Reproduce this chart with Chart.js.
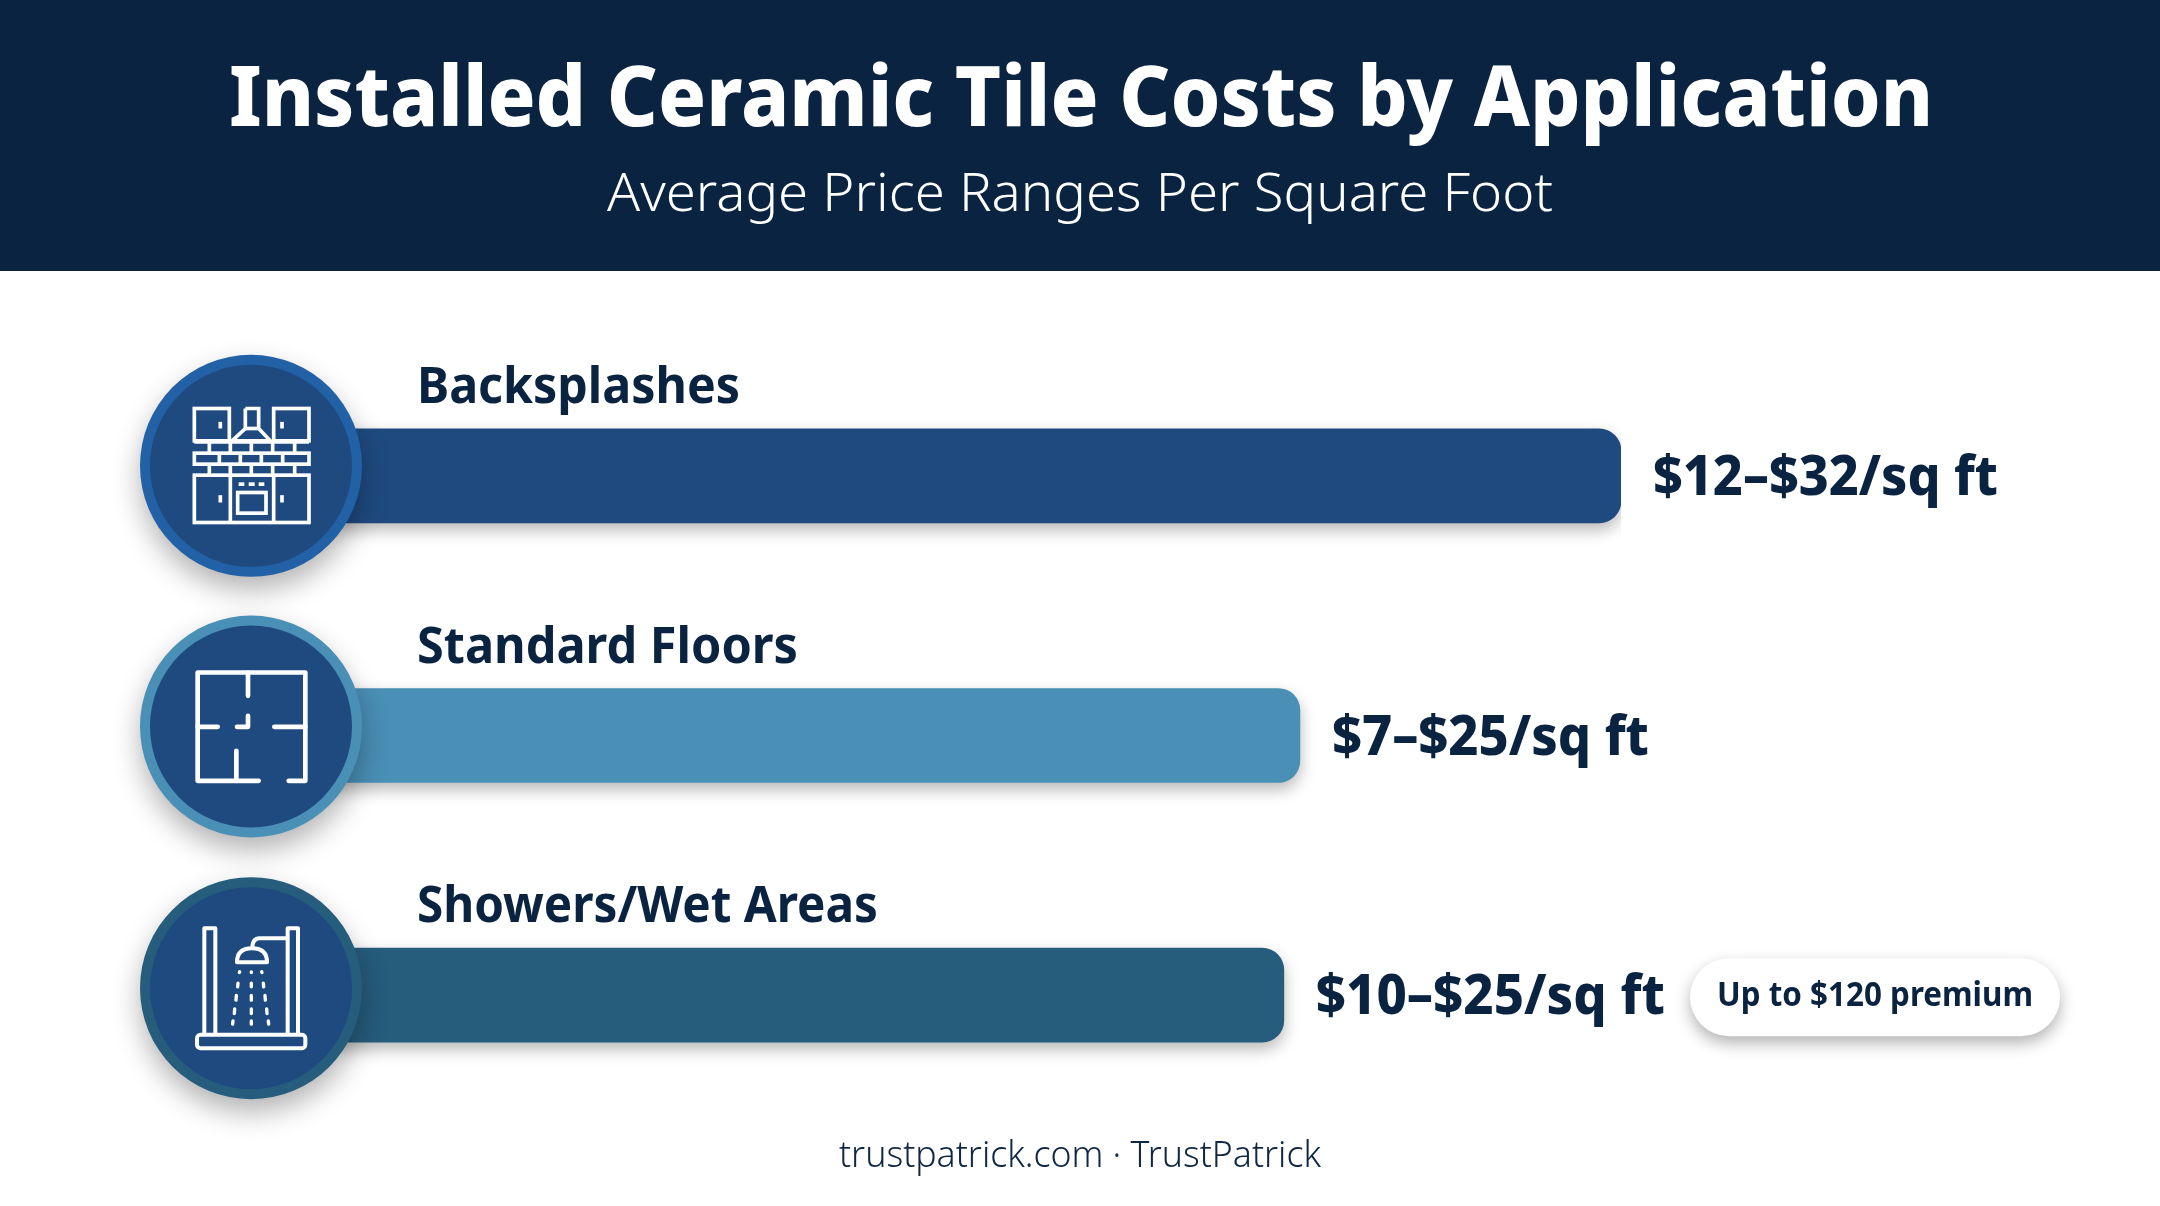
<!DOCTYPE html>
<html>
<head>
<meta charset="utf-8">
<title>Installed Ceramic Tile Costs by Application</title>
<script src="https://cdn.jsdelivr.net/npm/chart.js@4"></script>
<style>
  html, body { margin: 0; padding: 0; background: #fff; }
  #wrap { width: 2160px; height: 1206px; }
</style>
</head>
<body>
<div id="wrap"><canvas id="chart" width="2160" height="1206"></canvas></div>
<script>
const titleText = 'Installed Ceramic Tile Costs by Application';
const subtitleText = 'Average Price Ranges Per Square Foot';
const footerText = 'trustpatrick.com · TrustPatrick';
const noteText = 'Up to $120 premium';

const categories = ['Backsplashes', 'Standard Floors', 'Showers/Wet Areas'];
const barLengths = [32, 25, 24.65];
const rangeLabels = ['$12–$32/sq ft', '$7–$25/sq ft', '$10–$25/sq ft'];

const barColors = ['#1f4a80', '#4a8fb5', '#265c7c'];
const ringColors = ['#2261a6', '#4a8fb6', '#265d7d'];
const labelWidths = [323, 381, 461];
const rangeWidths = [345, 317, 349];

const NAVY = '#0a2340';
const FONT = '"Noto Sans", sans-serif';

// draws text squeezed to a set width, the installed fonts run wider than the original
function fitText(ctx, text, x, y, font, width, color) {
  ctx.save();
  ctx.font = font;
  ctx.fillStyle = color;
  ctx.textAlign = 'left';
  ctx.textBaseline = 'alphabetic';
  const k = width / ctx.measureText(text).width;
  ctx.translate(x, y);
  ctx.scale(k, 1);
  ctx.fillText(text, 0, 0);
  ctx.restore();
}

function line(ctx, pts) {
  ctx.beginPath();
  pts.forEach((p, i) => i ? ctx.lineTo(p[0], p[1]) : ctx.moveTo(p[0], p[1]));
  ctx.stroke();
}

function kitchenIcon(ctx) {
  ctx.lineWidth = 11;
  ctx.strokeRect(222, 208, 105, 97);
  ctx.strokeRect(460, 208, 106, 97);
  ctx.strokeRect(222, 342, 344, 33);
  ctx.strokeRect(222, 408, 344, 142);
  ctx.strokeRect(352, 460, 85, 62);
  line(ctx, [[375, 208], [375, 268], [335, 305], [450, 305], [415, 268], [415, 208], [375, 208]]);
  line(ctx, [[375, 268], [415, 268]]);
  line(ctx, [[222, 308], [566, 308]]);
  [267, 330, 393, 457, 523].forEach(x => {
    line(ctx, [[x, 308], [x, 342]]);
    line(ctx, [[x, 375], [x, 408]]);
  });
  [297, 360, 423, 487].forEach(x => line(ctx, [[x, 342], [x, 375]]));
  line(ctx, [[330, 408], [330, 550]]);
  line(ctx, [[460, 408], [460, 550]]);
  [[300, 248, 268], [485, 248, 268], [300, 468, 490], [485, 468, 490]].forEach(h => line(ctx, [[h[0], h[1]], [h[0], h[2]]]));
  [[355, 372], [385, 403], [415, 432]].forEach(d => line(ctx, [[d[0], 435], [d[1], 435]]));
}

function floorIcon(ctx) {
  ctx.lineWidth = 14;
  ctx.lineCap = 'round';
  ctx.lineJoin = 'round';
  line(ctx, [[415, 545], [232, 545], [232, 220], [555, 220], [555, 545], [505, 545]]);
  line(ctx, [[383, 220], [383, 290]]);
  line(ctx, [[232, 383], [292, 383]]);
  line(ctx, [[350, 383], [383, 383], [383, 350]]);
  line(ctx, [[462, 383], [555, 383]]);
  line(ctx, [[348, 455], [348, 545]]);
}

function showerIcon(ctx) {
  ctx.lineWidth = 12;
  ctx.lineJoin = 'round';
  line(ctx, [[252, 522], [252, 205], [285, 205], [285, 522]]);
  line(ctx, [[502, 522], [502, 205], [533, 205], [533, 522]]);
  ctx.beginPath();
  ctx.roundRect(230, 525, 325, 40, 10);
  ctx.stroke();
  ctx.beginPath();
  ctx.moveTo(500, 235);
  ctx.lineTo(418, 235);
  ctx.quadraticCurveTo(396, 235, 396, 265);
  ctx.stroke();
  ctx.beginPath();
  ctx.moveTo(350, 307);
  ctx.quadraticCurveTo(350, 265, 395, 265);
  ctx.quadraticCurveTo(440, 265, 440, 307);
  ctx.closePath();
  ctx.stroke();
  ctx.lineCap = 'round';
  ctx.lineWidth = 10;
  [[336, 342], [370, 385], [407, 425], [447, 465], [483, 497]].forEach((r, i) => {
    line(ctx, [[358 - i * 5, r[0]], [358 - i * 5 - 1, r[1] - 4]]);
    line(ctx, [[393, r[0]], [393, r[1] - 4]]);
    line(ctx, [[424 + i * 5, r[0]], [424 + i * 5 + 1, r[1] - 4]]);
  });
}

const icons = [
  { draw: kitchenIcon, cx: 392, cy: 380 },
  { draw: floorIcon, cx: 392, cy: 382 },
  { draw: showerIcon, cx: 392, cy: 385 }
];
const circleOffsets = [-10, -9, -7];

const tilePlugin = {
  id: 'tilePlugin',
  beforeDraw(chart) {
    const ctx = chart.ctx;
    ctx.save();
    ctx.fillStyle = '#fff';
    ctx.fillRect(0, 0, 2160, 1206);
    ctx.fillStyle = NAVY;
    ctx.fillRect(0, 0, 2160, 271);
    ctx.restore();
    fitText(ctx, titleText, 229, 126, '800 84px ' + FONT, 1704, '#ffffff');
    fitText(ctx, subtitleText, 607, 211, '300 54px ' + FONT, 946, '#ffffff');
    fitText(ctx, footerText, 839, 1167, '300 37px ' + FONT, 482, '#0f2743');
  },
  beforeDatasetsDraw(chart) {
    const ctx = chart.ctx;
    ctx.save();
    ctx.shadowColor = 'rgba(0,0,0,0.28)';
    ctx.shadowBlur = 16;
    ctx.shadowOffsetY = 7;
  },
  afterDatasetsDraw(chart) {
    const ctx = chart.ctx;
    ctx.restore();
    const xs = chart.scales.x;
    const ys = chart.scales.y;
    categories.forEach((name, i) => {
      const y = ys.getPixelForValue(i);
      const cy = y + circleOffsets[i];
      ctx.save();
      ctx.shadowColor = 'rgba(0,0,0,0.3)';
      ctx.shadowBlur = 28;
      ctx.shadowOffsetY = 13;
      ctx.fillStyle = ringColors[i];
      ctx.beginPath();
      ctx.arc(251, cy, 111, 0, Math.PI * 2);
      ctx.fill();
      ctx.restore();
      ctx.fillStyle = '#1e4a7f';
      ctx.beginPath();
      ctx.arc(251, cy, 101, 0, Math.PI * 2);
      ctx.fill();

      ctx.save();
      ctx.translate(251, cy);
      ctx.scale(1 / 3, 1 / 3);
      ctx.translate(-icons[i].cx, -icons[i].cy);
      ctx.strokeStyle = '#ffffff';
      ctx.fillStyle = '#ffffff';
      icons[i].draw(ctx);
      ctx.restore();

      fitText(ctx, name, 417, y - 73, '700 50px ' + FONT, labelWidths[i], NAVY);
      fitText(ctx, rangeLabels[i], xs.getPixelForValue(barLengths[i]) + 32, y + 19, '800 56px ' + FONT, rangeWidths[i], NAVY);
    });

    // premium note for the wet areas row
    const ny = ys.getPixelForValue(2);
    ctx.save();
    ctx.shadowColor = 'rgba(0,0,0,0.3)';
    ctx.shadowBlur = 16;
    ctx.shadowOffsetY = 7;
    ctx.fillStyle = '#ffffff';
    ctx.beginPath();
    ctx.roundRect(1690, ny - 37, 370, 78, 39);
    ctx.fill();
    ctx.restore();
    fitText(ctx, noteText, 1717, ny + 11, '700 34px ' + FONT, 316, NAVY);
  }
};

new Chart(document.getElementById('chart'), {
  type: 'bar',
  data: {
    labels: categories,
    datasets: [{
      data: barLengths,
      backgroundColor: barColors,
      barThickness: 94,
      borderRadius: { topLeft: 0, bottomLeft: 0, topRight: 22, bottomRight: 22 },
      borderSkipped: false
    }]
  },
  options: {
    indexAxis: 'y',
    responsive: false,
    animation: false,
    // axis starts at 1, the first stretch of each bar sits under its circle anyway
    layout: { padding: { left: 199, right: 539, top: 346, bottom: 81 } },
    plugins: { legend: { display: false }, tooltip: { enabled: false } },
    scales: {
      x: { display: false, min: 1, max: 32 },
      y: { display: false }
    }
  },
  plugins: [tilePlugin]
});
</script>
</body>
</html>
